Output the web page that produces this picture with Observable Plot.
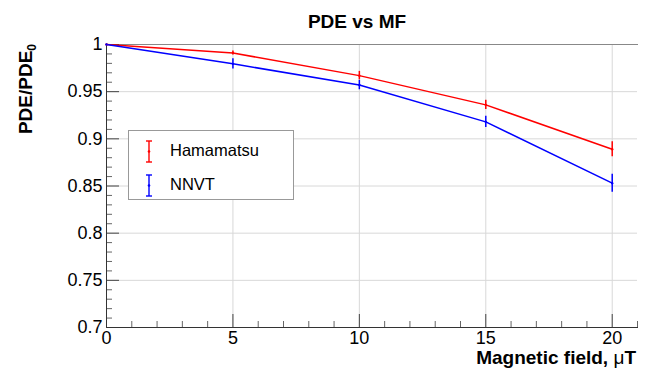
<!DOCTYPE html>
<html><head><meta charset="utf-8">
<script src="https://cdn.jsdelivr.net/npm/d3@7"></script>
<script src="https://cdn.jsdelivr.net/npm/@observablehq/plot@0.6"></script>
<style>
html,body{margin:0;padding:0;background:#fff;}
body{font-family:"Liberation Sans",Arial,sans-serif;}
#wrap{position:relative;width:647px;height:373px;overflow:hidden;}
#legend{position:absolute;left:128px;top:130px;width:166px;height:70px;border:1px solid #999;background:#fff;box-sizing:border-box;}
.entry{position:absolute;left:0;font-size:16.5px;color:#000;}
.entry svg{position:absolute;}
.entry span{position:absolute;left:41px;white-space:nowrap;}
</style>
</head><body>
<div id="wrap"></div>
<script>
// Data
const field = [0, 5, 10, 15, 20];
const seriesNames = ["Hamamatsu", "NNVT"];
const seriesColors = ["#ff0000", "#0000ff"];
const hamamatsu = [1.000, 0.991, 0.967, 0.936, 0.889];
const hamamatsuErr = [0.000, 0.002, 0.0045, 0.005, 0.008];
const nnvt = [1.000, 0.9795, 0.957, 0.918, 0.853];
const nnvtErr = [0.000, 0.0055, 0.005, 0.006, 0.0095];
const xTickLabels = [0, 5, 10, 15, 20];
const yTickLabels = [0.7, 0.75, 0.8, 0.85, 0.9, 0.95, 1];
const xMinorTicks = d3.range(0, 22, 1).filter(v => v % 5 !== 0);
const yMinorTicks = d3.range(70, 101, 1).map(v => v / 100).filter(v => Math.round(v * 100) % 5 !== 0);

const rows = [];
[[hamamatsu, hamamatsuErr], [nnvt, nnvtErr]].forEach(([vals, errs], i) => {
  field.forEach((f, j) => rows.push({series: seriesNames[i], field: f, pde: vals[j], lo: vals[j] - errs[j], hi: vals[j] + errs[j]}));
});

const fmtY = d => String(+d.toFixed(2));

const plot = Plot.plot({
  width: 647, height: 373,
  marginLeft: 106, marginRight: 10, marginTop: 44, marginBottom: 46,
  style: {fontFamily: "'Liberation Sans', Arial, sans-serif", fontSize: "18px", background: "#fff", color: "#000", overflow: "visible"},
  x: {domain: [0, 21], axis: null},
  y: {domain: [0.7, 1], axis: null},
  color: {domain: seriesNames, range: seriesColors},
  marks: [
    Plot.gridX(xTickLabels.slice(1), {stroke: "#d8d8d8", strokeOpacity: 1, strokeWidth: 1}),
    Plot.gridY(yTickLabels.slice(1, -1), {stroke: "#d8d8d8", strokeOpacity: 1, strokeWidth: 1}),
    Plot.frame({anchor: "top", stroke: "#888"}),
    Plot.axisX(xTickLabels, {anchor: "bottom", tickSize: -13, fill: "none", stroke: "#444", label: null}),
    Plot.axisX(xMinorTicks, {anchor: "bottom", tickSize: -6, fill: "none", stroke: "#666", label: null}),
    Plot.axisX(xTickLabels, {anchor: "bottom", tickSize: 0, tickPadding: 4, label: null, fontSize: 18, tickFormat: d => String(d)}),
    Plot.axisY(yTickLabels, {anchor: "left", tickSize: -13, fill: "none", stroke: "#444", label: null}),
    Plot.axisY(yMinorTicks, {anchor: "left", tickSize: -6, fill: "none", stroke: "#666", label: null}),
    Plot.axisY(yTickLabels, {anchor: "left", tickSize: 0, tickPadding: 4, label: null, fontSize: 18, tickFormat: fmtY}),
    Plot.frame({anchor: "left", stroke: "#333"}),
    Plot.frame({anchor: "bottom", stroke: "#333"}),
    Plot.line(rows, {x: "field", y: "pde", z: "series", stroke: "series", strokeWidth: 1.5}),
    Plot.ruleX(rows, {x: "field", y1: "lo", y2: "hi", stroke: "series", strokeWidth: 1.5}),
    Plot.dot(rows, {x: "field", y: "pde", fill: "series", r: 1.2})
  ]
});

const svg = d3.select(plot);
// title
svg.append("text").attr("x", 357).attr("y", 28).attr("text-anchor", "middle")
  .attr("font-weight", "bold").attr("font-size", 19).attr("fill", "#000").text("PDE vs MF");
// y label
const yl = svg.append("text").attr("transform", "translate(32,44) rotate(-90)")
  .attr("text-anchor", "end").attr("font-weight", "bold").attr("font-size", 19).attr("fill", "#000");
yl.append("tspan").text("PDE/PDE");
yl.append("tspan").attr("font-size", 12).attr("dy", 4).text("0");
// x label
const xl = svg.append("text").attr("x", 636).attr("y", 364).attr("text-anchor", "end")
  .attr("font-weight", "bold").attr("font-size", 19).attr("fill", "#000");
xl.append("tspan").text("Magnetic field, ");
xl.append("tspan").attr("font-weight", "normal").text("\u03bc");
xl.append("tspan").text("T");

const wrap = document.getElementById("wrap");
wrap.appendChild(plot);

// legend
const legend = document.createElement("div");
legend.id = "legend";
const tops = [10, 44];
seriesNames.forEach((name, i) => {
  const e = document.createElement("div");
  e.className = "entry";
  e.style.top = tops[i] + "px";
  e.style.width = "160px";
  const c = seriesColors[i];
  e.innerHTML = `<svg width="20" height="26" style="left:10px;top:-3px"><line x1="10" y1="3" x2="10" y2="24" stroke="${c}" stroke-width="1.4"/><line x1="7" y1="3" x2="13" y2="3" stroke="${c}" stroke-width="1.4"/><line x1="7" y1="24" x2="13" y2="24" stroke="${c}" stroke-width="1.4"/><circle cx="10" cy="13.5" r="1.3" fill="${c}"/></svg><span>${name}</span>`;
  legend.appendChild(e);
});
wrap.appendChild(legend);
</script>
</body></html>
